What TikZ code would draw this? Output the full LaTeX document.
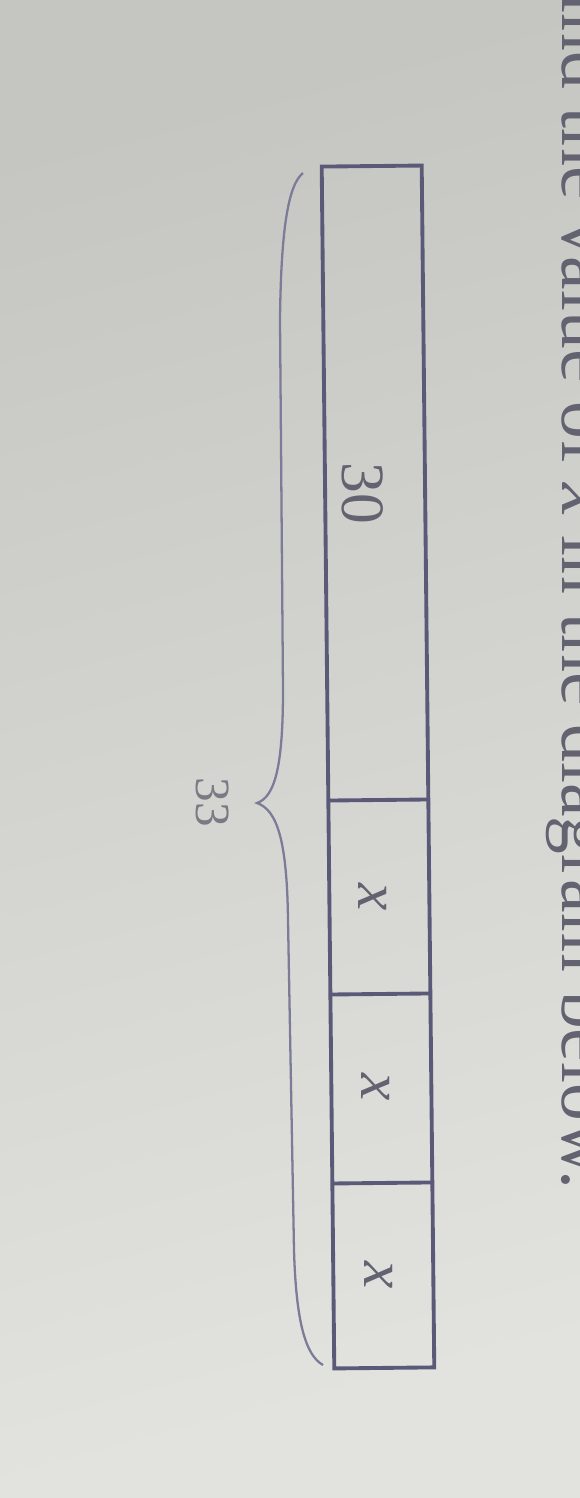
\documentclass[tikz,border=0pt]{standalone}
\usepackage{fontspec}
\setmainfont{Liberation Serif}

\definecolor{paperdark}{HTML}{C5C6C2}
\definecolor{paperlight}{HTML}{E2E3DE}
\definecolor{barline}{HTML}{5A5A78}
\definecolor{braceline}{HTML}{7C7C98}
\definecolor{inkgray}{HTML}{626270}

\begin{document}
\begin{tikzpicture}[x=0.02cm,y=-0.02cm,
  barline/.style={line width=2.2pt,color=barline},
  tapelabel/.style={rotate=-90,inner sep=0pt,color=inkgray,font=\fontsize{35}{40}\selectfont}]

\useasboundingbox (0,0) rectangle (580,1498);
\clip (0,0) rectangle (580,1498);
\shade[top color=paperdark,bottom color=paperlight,shading angle=15] (0,0) rectangle (580,1498);

\node[rotate=-90,anchor=base east,inner sep=0pt,color=inkgray,font=\fontsize{43}{50}\selectfont]
  (question) at (562,1190) {Find the value of \textit{x} in the diagram below.};

\begin{scope}[rotate around={0.6:(378,767)}]
\coordinate (B0) at (328,166);
\coordinate (B4) at (428,1368);

\draw[barline] (B0) rectangle (B4);
\foreach \y in {800,994,1183}
  \draw[barline] (328,\y)--(428,\y);

\node[tapelabel] (lab30) at (366,493) {30};
\node[tapelabel] (labx1) at (371,897) {\textit{x}};
\node[tapelabel] (labx2) at (372,1087) {\textit{x}};
\node[tapelabel] (labx3) at (373,1275) {\textit{x}};
\end{scope}

\coordinate (braceTop) at (303,173);
\coordinate (braceTip) at (257,803);
\coordinate (braceBot) at (323,1365);

\draw[line width=1.3pt,color=braceline] (braceTop) .. controls (288,185) and (281,230) .. (280,320)
  -- (283,690) .. controls (283,770) and (274,797) .. (braceTip)
  .. controls (277,810) and (287,840) .. (288,920)
  -- (294,1250) .. controls (296,1320) and (305,1355) .. (braceBot);

\node[rotate=-90,inner sep=0pt,color=inkgray!85,font=\fontsize{28}{32}\selectfont]
  (lab33) at (213,802) {33};

\end{tikzpicture}
\end{document}
